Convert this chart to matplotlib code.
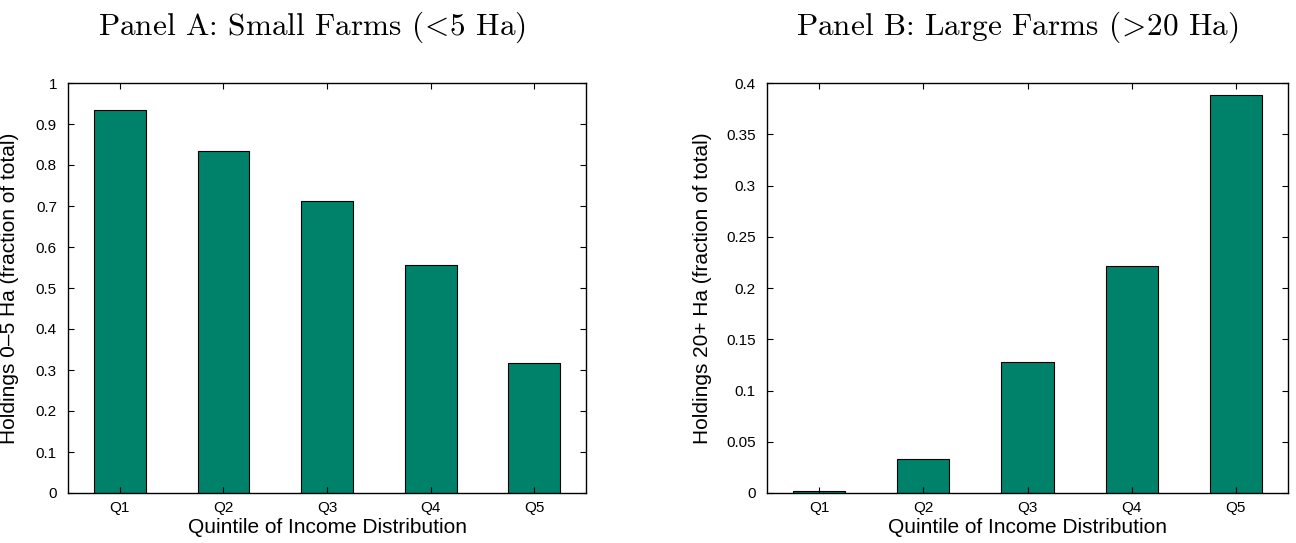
import matplotlib
matplotlib.use("Agg")
import matplotlib.pyplot as plt
import numpy as np

quintiles = ["Q1", "Q2", "Q3", "Q4", "Q5"]
small_farms = [0.935, 0.835, 0.711, 0.556, 0.316]
large_farms = [0.002, 0.033, 0.128, 0.221, 0.388]
yticks_a = [0, 0.1, 0.2, 0.3, 0.4, 0.5, 0.6, 0.7, 0.8, 0.9, 1]
yticklabels_a = ["0", "0.1", "0.2", "0.3", "0.4", "0.5", "0.6", "0.7", "0.8", "0.9", "1"]
yticks_b = [0, 0.05, 0.1, 0.15, 0.2, 0.25, 0.3, 0.35, 0.4]
yticklabels_b = ["0", "0.05", "0.1", "0.15", "0.2", "0.25", "0.3", "0.35", "0.4"]

plt.rcParams['font.family'] = ['Liberation Sans', 'DejaVu Sans']
plt.rcParams['mathtext.fontset'] = 'cm'

fig = plt.figure(figsize=(12.96, 5.43), dpi=100)
ax1 = fig.add_axes([68/1296, 1-493/543, 518/1296, 410/543])
ax2 = fig.add_axes([767/1296, 1-493/543, 521/1296, 410/543])

color = "#00826a"
x = np.arange(1, 6)

def style(ax, vals, yt, ytl, ylim, ylabel, ylx):
    ax.bar(x, vals, width=0.5, color=color, edgecolor="black", linewidth=0.8)
    ax.set_xlim(0.5, 5.5)
    ax.set_ylim(*ylim)
    ax.set_xticks(x)
    ax.set_xticklabels(quintiles, fontsize=11)
    ax.set_yticks(yt)
    ax.set_yticklabels(ytl, fontsize=11)
    ax.tick_params(direction="in", top=True, right=True, length=4.5, width=0.8)
    ax.tick_params(axis="y", pad=8)
    ax.tick_params(axis="x", pad=6)
    for s in ax.spines.values():
        s.set_linewidth(1.0)
    ax.set_xlabel("Quintile of Income Distribution", fontsize=15)
    ax.xaxis.set_label_coords(0.5, -0.062)
    ax.set_ylabel(ylabel, fontsize=15)
    ax.yaxis.set_label_coords(ylx, 0.5)

style(ax1, small_farms, yticks_a, yticklabels_a, (0, 1),
      "Holdings 0\u20135 Ha (fraction of total)", -0.094)
style(ax2, large_farms, yticks_b, yticklabels_b, (0, 0.4),
      "Holdings 20+ Ha (fraction of total)", -0.106)

fig.text(312/1296, 1-35/543, r"Panel A: Small Farms ($\!<\!$5 Ha)",
         ha="center", va="baseline", fontsize=22.5, family="cmr10")
fig.text(1017/1296, 1-35/543, r"Panel B: Large Farms ($\!>\!$20 Ha)",
         ha="center", va="baseline", fontsize=22.5, family="cmr10")

fig.savefig("out.png", dpi=100)
